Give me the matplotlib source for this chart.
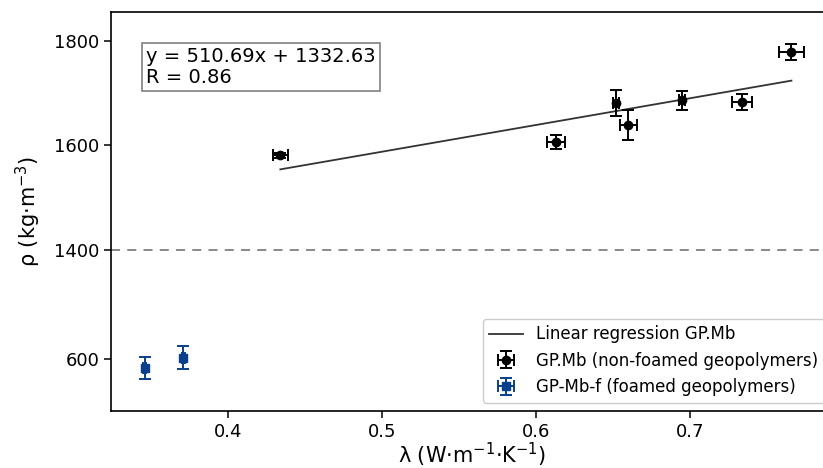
import numpy as np
import matplotlib
matplotlib.use("Agg")
import matplotlib.pyplot as plt

# --- DATA ---
# non-foamed geopolymers (GP.Mb)
mb_lambda = [0.434, 0.613, 0.652, 0.660, 0.695, 0.734, 0.766]
mb_rho = [1581, 1607, 1681, 1639, 1686, 1683, 1778]
mb_lambda_err = [0.005, 0.006, 0.002, 0.0056, 0.002, 0.0064, 0.0082]
mb_rho_err = [5, 13, 24, 28, 18, 15, 15]

# foamed geopolymers (GP-Mb-f)
mbf_lambda = [0.346, 0.371]
mbf_rho = [529, 605]
mbf_lambda_err = [0.001, 0.001]
mbf_rho_err = [79, 84]

slope = 510.69
intercept = 1332.63
r_value = 0.86

y_ticks = [600, 1400, 1600, 1800]
y_break = 1400
K = 3.86  # compression below the break


# --- SCALE ---
def fwd(y):
    y = np.asarray(y, dtype=float)
    return np.where(y >= y_break, y, y_break - (y_break - y) / K)


def inv(t):
    t = np.asarray(t, dtype=float)
    return np.where(t >= y_break, t, y_break - (y_break - t) * K)


# --- PLOT ---
fig = plt.figure(figsize=(8.23, 4.68), dpi=100)
ax = fig.add_axes([111 / 823, 1 - 411 / 468, 722 / 823, 399 / 468])
ax.set_yscale("function", functions=(fwd, inv))

x_fit = np.array([min(mb_lambda), max(mb_lambda)])
ax.plot(x_fit, slope * x_fit + intercept, color="#333333", lw=1.3,
        label="Linear regression GP.Mb")

ax.errorbar(mb_lambda, mb_rho, xerr=mb_lambda_err, yerr=mb_rho_err,
            fmt="o", color="black", ms=6, capsize=4, elinewidth=1.4,
            capthick=1.4, label="GP.Mb (non-foamed geopolymers)")
ax.errorbar(mbf_lambda, mbf_rho, xerr=mbf_lambda_err, yerr=mbf_rho_err,
            fmt="s", color="#0a3f8c", ms=5.5, capsize=4, elinewidth=1.4,
            capthick=1.4, label="GP-Mb-f (foamed geopolymers)")

ax.axhline(y_break, color="gray", ls="--", lw=1.3, dashes=(5, 4))

ax.set_xlim(0.324, 0.793)
ax.set_ylim(213, 1855)
ax.set_yticks(y_ticks)
ax.set_xticks([0.4, 0.5, 0.6, 0.7])
ax.tick_params(labelsize=13, length=5, width=1.1)
for s in ax.spines.values():
    s.set_linewidth(1.2)

ax.set_xlabel(r"λ (W·m$^{-1}$·K$^{-1}$)", fontsize=15, labelpad=0)
ax.set_ylabel(r"ρ (kg·m$^{-3}$)", fontsize=15, labelpad=8)

ax.text(0.049, 0.912, f"y = {slope:.2f}x + {intercept:.2f}\nR = {r_value:.2f}",
        transform=ax.transAxes, va="top", ha="left", fontsize=14,
        linespacing=1.15,
        bbox=dict(boxstyle="square,pad=0.2", fc="white", ec="gray", lw=1.2))

ax.legend(loc="lower right", fontsize=12, framealpha=1, edgecolor="#cccccc")

fig.savefig("out.png", dpi=100)
